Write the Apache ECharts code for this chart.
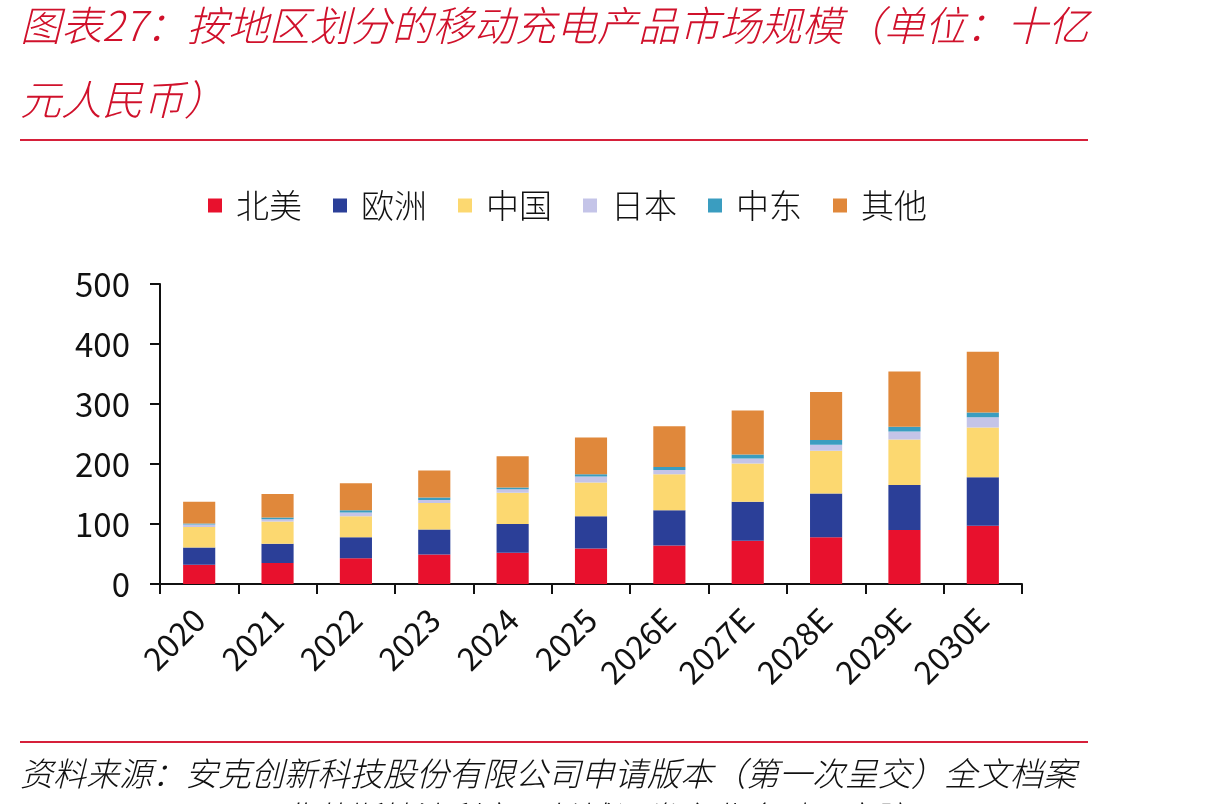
<!DOCTYPE html>
<html>
<head>
<meta charset="utf-8">
<script src="https://cdn.jsdelivr.net/npm/echarts@6/dist/echarts.min.js"></script>
<style>
  html, body { margin: 0; padding: 0; background: #fff; }
  #main { width: 1210px; height: 804px; }
</style>
</head>
<body>
<div id="main"></div>
<script>
// 年份
var years = ['2020', '2021', '2022', '2023', '2024', '2025', '2026E', '2027E', '2028E', '2029E', '2030E'];
// 各地区数值（十亿元人民币）
var northAmerica = [32, 35, 43, 49, 52, 59, 64, 72, 78, 90, 97];
var europe = [29, 32, 35, 42, 48, 54, 59, 65, 73, 75, 81];
var china = [34, 37, 35, 44, 52, 56, 60, 64, 71, 76, 83];
var japan = [4, 4, 6, 5, 6, 10, 7, 8, 10, 13, 17];
var middleEast = [2, 3, 4, 4, 3, 4, 5, 7, 8, 8, 8];
var others = [36, 39, 45, 45, 52, 61, 68, 73, 80, 92, 101];

var FONT = '"Noto Sans CJK SC", "Noto Sans", sans-serif';

var myChart = echarts.init(document.getElementById('main'));

function bar(name, data, color) {
  return {
    name: name,
    type: 'bar',
    stack: 'total',
    barWidth: '41%',
    data: data,
    itemStyle: { color: color }
  };
}

myChart.setOption({
  backgroundColor: '#fff',
  animation: false,
  textStyle: { fontFamily: FONT },
  graphic: [
    {
      type: 'text', left: 20, top: -12,
      style: {
        text: '图表27：按地区划分的移动充电产品市场规模（单位：十亿\n元人民币）',
        font: 'italic 300 41px ' + FONT,
        fill: '#d0112b',
        lineHeight: 74
      }
    },
    {
      type: 'rect', left: 20, top: 139,
      shape: { width: 1068, height: 2 },
      style: { fill: '#d6203a' }
    },
    {
      type: 'rect', left: 20, top: 741,
      shape: { width: 1068, height: 2 },
      style: { fill: '#d6203a' }
    },
    {
      type: 'text', left: 20, top: 751,
      style: {
        text: '资料来源：安克创新科技股份有限公司申请版本（第一次呈交）全文档案\n20260602，IDC，弗若斯特沙利文，长城证券产业金融研究院',
        font: 'italic 300 33px ' + FONT,
        fill: '#111',
        lineHeight: 44
      }
    }
  ],
  legend: {
    top: 184,
    left: 203,
    itemWidth: 14,
    itemHeight: 14,
    itemGap: 31,
    icon: 'rect',
    textStyle: { fontSize: 33, color: '#111', fontFamily: FONT, fontWeight: 300, padding: [0, 0, 0, 9] }
  },
  grid: { left: 160, right: 188, top: 284, bottom: 220 },
  xAxis: {
    type: 'category',
    data: years,
    axisLine: { lineStyle: { color: '#111', width: 2 } },
    axisTick: { show: true, length: 10, lineStyle: { color: '#111', width: 2 } },
    axisLabel: { rotate: 45, fontSize: 32, color: '#111', margin: 30, fontFamily: FONT }
  },
  yAxis: {
    type: 'value',
    min: 0,
    max: 500,
    interval: 100,
    splitLine: { show: false },
    axisLine: { show: true, lineStyle: { color: '#111', width: 2 } },
    axisTick: { show: true, length: 10, lineStyle: { color: '#111', width: 2 } },
    axisLabel: { fontSize: 33, color: '#111', margin: 30, fontFamily: FONT }
  },
  series: [
    bar('北美', northAmerica, '#e8112d'),
    bar('欧洲', europe, '#2b3f98'),
    bar('中国', china, '#fcd870'),
    bar('日本', japan, '#c4c4e8'),
    bar('中东', middleEast, '#3a9dc0'),
    bar('其他', others, '#e0883b')
  ]
});
</script>
</body>
</html>
